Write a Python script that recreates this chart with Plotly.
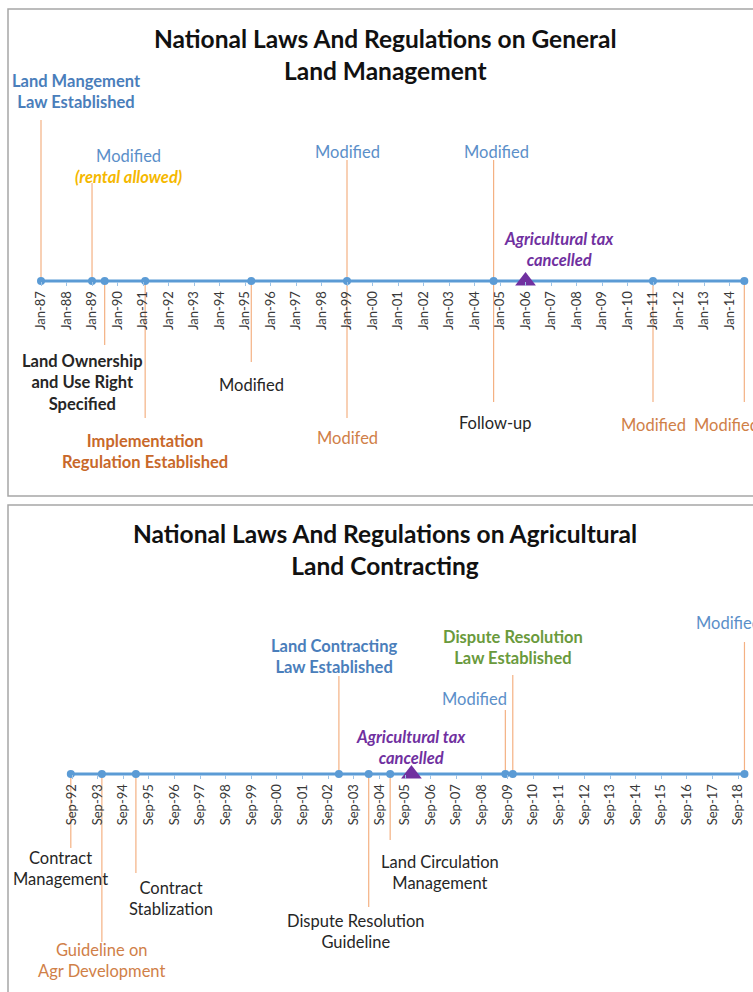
import datetime as dt
import plotly.graph_objects as go

# ---------------- DATA ----------------
top_title = "National Laws And Regulations on General<br>Land Management"
top_dates = ["1987-01-01", "1989-01-01", "1989-07-01", "1991-02-01", "1995-04-01",
             "1999-01-01", "1999-01-01", "2004-10-01", "2004-10-01", "2006-01-01",
             "2011-01-01", "2014-08-01"]
top_labels = ["Land Mangement<br>Law Established",
              "Modified<br><b><i><span style='color:#F5B800'>(rental allowed)</span></i></b>",
              "Land Ownership<br>and Use Right<br>Specified",
              "Implementation<br>Regulation Established",
              "Modified",
              "Modified",
              "Modifed",
              "Modified",
              "Follow-up",
              "Agricultural tax<br>cancelled",
              "Modified",
              "Modified"]
top_kinds = ["dot", "dot", "dot", "dot", "dot", "dot", "dot", "dot", "dot", "tri", "dot", "dot"]
top_tick_vals = ["%d-01-01" % y for y in range(1987, 2015)]
top_tick_text = ["Jan-%02d" % (y % 100) for y in range(1987, 2015)]

bot_title = "National Laws And Regulations on Agricultural<br>Land Contracting"
bot_dates = ["1992-08-15", "1993-11-01", "1995-03-01", "2003-02-01", "2004-04-01",
             "2005-02-01", "2005-12-01", "2009-08-01", "2009-11-15", "2018-12-01"]
bot_labels = ["Contract<br>Management",
              "Guideline on<br>Agr Development",
              "Contract<br>Stablization",
              "Land Contracting<br>Law Established",
              "Dispute Resolution<br>Guideline",
              "Land Circulation<br>Management",
              "Agricultural tax<br>cancelled",
              "Modified",
              "Dispute Resolution<br>Law Established",
              "Modified"]
bot_kinds = ["dot", "dot", "dot", "dot", "dot", "dot", "tri", "dot", "dot", "dot"]
bot_tick_vals = ["%d-09-01" % y for y in range(1992, 2019)]
bot_tick_text = ["Sep-%02d" % (y % 100) for y in range(1992, 2019)]

# ---------------- STYLES / POSITIONS (pixels) ----------------
BLUE_B = "#4A7EBB"
BLUE = "#5B8FC9"
BLACK = "#262626"
ORANGE_B = "#C8682A"
ORANGE = "#D08048"
PURPLE = "#7030A0"
GREEN = "#6A9A3C"
AXIS_BLUE = "#5B9BD5"
STEM = "#F4B183"

# per event: color, bold, italic, stem end (px), label centre y (px), label x shift
top_style = [
    (BLUE_B, True, False, 120, 91, 35),
    (BLUE, False, False, 183, 166, 36),
    (BLACK, True, False, 345, 382, -22),
    (ORANGE_B, True, False, 418, 451, 0),
    (BLACK, False, False, 362, 385, 0),
    (BLUE, False, False, 160, 152, 0),
    (ORANGE, False, False, 418, 438, 0),
    (BLUE, False, False, 160, 152, 3),
    (BLACK, False, False, 402, 423, 2),
    (PURPLE, True, True, None, 249, 33),
    (ORANGE, False, False, 402, 425, 0),
    (ORANGE, False, False, 402, 425, -18),
]
bot_style = [
    (BLACK, False, False, 848, 868, -10),
    (ORANGE, False, False, 942, 960, 0),
    (BLACK, False, False, 873, 898, 35),
    (BLUE_B, True, False, 676, 656, -5),
    (BLACK, False, False, 907, 931, -13),
    (BLACK, False, False, 840, 872, 50),
    (PURPLE, True, True, None, 747, 0),
    (BLUE, False, False, 710, 699, -31),
    (GREEN, True, False, 675, 647, 0),
    (BLUE, False, False, 642, 623, -16),
]

W, H = 753, 992
FONT = "Lato"

panels = [
    dict(top=0, bottom=495, axis=281, ref="1987-01-01", ref_px=41, ppy=25.5,
         dates=top_dates, labels=top_labels, kinds=top_kinds, style=top_style,
         tv=top_tick_vals, tt=top_tick_text, title=top_title, title_y=54),
    dict(top=500, bottom=992, axis=774, ref="1992-09-01", ref_px=72, ppy=25.62,
         dates=bot_dates, labels=bot_labels, kinds=bot_kinds, style=bot_style,
         tv=bot_tick_vals, tt=bot_tick_text, title=bot_title, title_y=549),
]

fig = go.Figure()
annotations = []
shapes = []

for i, p in enumerate(panels):
    n = "" if i == 0 else str(i + 1)
    xa, ya = "x" + n, "y" + n
    ref = dt.datetime.fromisoformat(p["ref"])
    days_per_px = 365.25 / p["ppy"]
    x0 = ref - dt.timedelta(days=p["ref_px"] * days_per_px)
    x1 = x0 + dt.timedelta(days=W * days_per_px)

    sx, sy = [], []
    for d, st in zip(p["dates"], p["style"]):
        if st[3] is None:
            continue
        sx += [d, d, None]
        sy += [0, p["axis"] - st[3], None]
    fig.add_trace(go.Scatter(x=sx, y=sy, mode="lines", xaxis=xa, yaxis=ya,
                             line=dict(color=STEM, width=1.2), hoverinfo="skip",
                             showlegend=False))
    ud = sorted(set(p["dates"]))
    fig.add_trace(go.Scatter(x=ud, y=[0] * len(ud), mode="lines", xaxis=xa, yaxis=ya,
                             line=dict(color=AXIS_BLUE, width=3), showlegend=False))
    dots = sorted(set(d for d, k in zip(p["dates"], p["kinds"]) if k == "dot"))
    fig.add_trace(go.Scatter(x=dots, y=[0] * len(dots), mode="markers", xaxis=xa, yaxis=ya,
                             marker=dict(color=AXIS_BLUE, size=8, symbol="circle"),
                             showlegend=False))
    tris = [d for d, k in zip(p["dates"], p["kinds"]) if k == "tri"]
    fig.add_trace(go.Scatter(x=tris, y=[0] * len(tris), mode="markers", xaxis=xa, yaxis=ya,
                             marker=dict(color=PURPLE, size=18, symbol="triangle-up"),
                             showlegend=False))

    for d, lab, st in zip(p["dates"], p["labels"], p["style"]):
        color, bold, ital, _, ly, xs = st
        t = lab
        if ital:
            t = "<i>" + t + "</i>"
        if bold:
            t = "<b>" + t + "</b>"
        annotations.append(dict(x=d, y=p["axis"] - ly, xref=xa, yref=ya, text=t,
                                showarrow=False, xshift=xs, yanchor="middle",
                                xanchor="center", align="center",
                                font=dict(family=FONT, size=16.5, color=color)))
    annotations.append(dict(x=385 / W, y=1 - p["title_y"] / H, xref="paper", yref="paper",
                            text="<b>" + p["title"] + "</b>", showarrow=False,
                            xanchor="center", yanchor="middle", align="center",
                            font=dict(family=FONT, size=24.5, color="#111111")))

    dom = [1 - p["bottom"] / H, 1 - p["top"] / H]
    fig.update_layout(**{
        "xaxis" + n: dict(type="date", range=[x0, x1], domain=[0, 1], anchor="free",
                          position=1 - p["axis"] / H, showgrid=False, zeroline=False,
                          showline=False, tickmode="array", tickvals=p["tv"],
                          ticktext=p["tt"], tickangle=-90, ticks="outside",
                          ticklen=4, tickcolor="#9DC3E6", tickwidth=1,
                          tickfont=dict(family=FONT, size=13, color="#383838")),
        "yaxis" + n: dict(domain=dom, range=[p["axis"] - p["bottom"], p["axis"] - p["top"]],
                          visible=False, fixedrange=True),
    })

for (t, b) in [(9, 496), (505, 1005)]:
    shapes.append(dict(type="rect", xref="paper", yref="paper", x0=8 / W, x1=765 / W,
                       y0=1 - b / H, y1=1 - t / H, line=dict(color="#A6A6A6", width=1.5)))

fig.update_layout(width=W, height=H, margin=dict(l=0, r=0, t=0, b=0),
                  paper_bgcolor="white", plot_bgcolor="rgba(0,0,0,0)",
                  annotations=annotations, shapes=shapes, showlegend=False)
fig.write_html("out.html", config={"displayModeBar": False},
               post_script="document.body.style.margin='0';document.body.style.overflow='hidden';")
